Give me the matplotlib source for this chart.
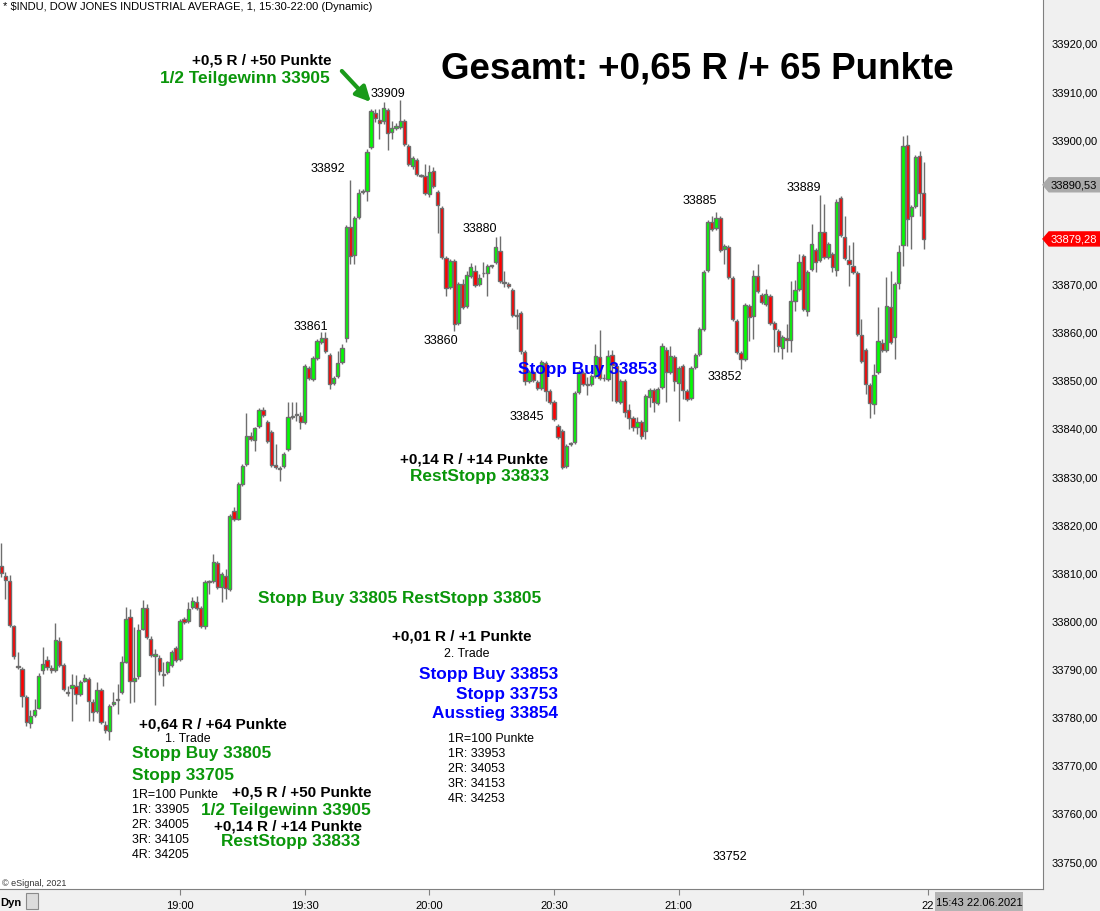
import numpy as np
import matplotlib.pyplot as plt
from matplotlib.patches import Polygon, Rectangle, FancyArrowPatch

plt.rcParams['font.family'] = ['Liberation Sans', 'DejaVu Sans']

# --- 1-minute candles, 18:17 .. 21:59 ---
opens = [
    33811.3, 33809.2, 33808.2, 33798.8, 33790.6, 33789.9, 33784.1, 33778.7, 33780.3, 33781.8,
    33789.7, 33791.8, 33790.1, 33789.7, 33795.7, 33790.7, 33785.2, 33785.9, 33786.3, 33784.7,
    33787.4, 33787.8, 33783.0, 33781.1, 33785.5, 33778.3, 33777.0, 33782.6, 33783.7, 33785.1,
    33791.3, 33800.7, 33787.4, 33788.4, 33798.2, 33802.5, 33796.1, 33792.6, 33792.2, 33788.8,
    33789.3, 33790.7, 33794.2, 33792.0, 33800.3, 33799.9, 33802.8, 33803.8, 33802.5, 33798.8,
    33808.2, 33808.2, 33811.9, 33806.9, 33809.2, 33806.5, 33822.7, 33821.1, 33828.3, 33832.5,
    33838.3, 33837.5, 33840.4, 33843.7, 33841.2, 33839.1, 33832.3, 33831.7, 33832.1, 33835.6,
    33842.2, 33842.6, 33842.4, 33841.2, 33852.4, 33850.1, 33854.5, 33857.8, 33858.6, 33855.1,
    33849.3, 33850.8, 33853.7, 33858.6, 33881.7, 33875.9, 33883.8, 33889.0, 33889.2, 33898.3,
    33905.4, 33904.0, 33903.7, 33906.0, 33901.5, 33902.3, 33902.5, 33903.7, 33898.6, 33894.4,
    33895.7, 33892.6, 33892.3, 33888.6, 33893.4, 33889.0, 33885.7, 33875.3, 33869.3, 33874.7,
    33861.8, 33869.9, 33865.3, 33871.5, 33872.6, 33869.9, 33872.1, 33872.2, 33873.6, 33874.4,
    33876.7, 33870.3, 33869.9, 33868.6, 33863.5, 33863.8, 33855.7, 33849.7, 33851.6, 33849.5,
    33848.3, 33853.5, 33847.6, 33845.4, 33840.4, 33839.3, 33832.1, 33836.6, 33837.0, 33847.4,
    33851.4, 33849.0, 33849.1, 33850.8, 33854.7, 33850.4, 33850.1, 33855.1, 33852.8, 33845.4,
    33849.7, 33843.7, 33842.0, 33840.2, 33841.2, 33839.3, 33846.4, 33847.9, 33845.2, 33848.5,
    33856.2, 33851.6, 33854.7, 33849.3, 33852.8, 33847.6, 33846.2, 33852.6, 33855.3, 33860.5,
    33872.8, 33882.8, 33881.5, 33883.6, 33877.1, 33877.6, 33871.1, 33862.2, 33855.5, 33854.3,
    33865.3, 33863.2, 33871.5, 33867.6, 33865.7, 33867.4, 33861.8, 33860.1, 33856.6, 33858.6,
    33858.2, 33866.3, 33868.8, 33875.7, 33864.3, 33873.0, 33876.9, 33874.9, 33880.7, 33875.5,
    33876.1, 33872.8, 33887.7, 33879.6, 33874.9, 33873.6, 33872.2, 33859.3, 33856.2, 33848.9,
    33844.9, 33851.6, 33857.6, 33856.2, 33865.1, 33858.9, 33870.1, 33878.0, 33898.8, 33884.0,
    33886.1, 33896.5, 33888.8,
]
highs = [
    33816.1, 33810.0, 33809.4, 33799.0, 33793.4, 33790.3, 33784.5, 33781.4, 33783.6, 33789.1,
    33794.4, 33792.6, 33790.7, 33799.4, 33796.5, 33791.1, 33786.3, 33788.8, 33788.6, 33787.6,
    33788.8, 33788.2, 33783.6, 33787.2, 33785.9, 33779.1, 33782.6, 33785.1, 33786.8, 33792.6,
    33802.8, 33802.3, 33798.6, 33799.2, 33804.2, 33803.5, 33796.7, 33794.0, 33792.8, 33791.3,
    33791.5, 33793.8, 33794.6, 33800.3, 33800.7, 33803.8, 33804.8, 33805.0, 33802.9, 33808.4,
    33808.3, 33813.8, 33812.3, 33810.0, 33810.7, 33822.1, 33823.5, 33828.7, 33832.5, 33843.1,
    33839.1, 33840.3, 33844.1, 33844.3, 33841.6, 33839.5, 33836.6, 33832.0, 33835.0, 33845.4,
    33845.4, 33845.4, 33843.3, 33853.2, 33852.8, 33854.9, 33858.4, 33859.9, 33859.9, 33855.5,
    33850.8, 33856.0, 33857.4, 33882.1, 33891.5, 33884.0, 33889.6, 33889.6, 33897.9, 33906.2,
    33906.2, 33906.2, 33907.7, 33906.4, 33903.7, 33903.3, 33908.1, 33904.1, 33899.0, 33896.5,
    33896.1, 33892.8, 33894.8, 33894.6, 33894.2, 33889.4, 33886.1, 33875.7, 33875.1, 33875.1,
    33870.3, 33870.9, 33872.6, 33874.2, 33873.8, 33871.9, 33874.4, 33874.0, 33873.8, 33879.6,
    33879.8, 33872.6, 33870.3, 33869.0, 33864.7, 33864.2, 33856.1, 33852.0, 33852.0, 33849.9,
    33854.1, 33853.9, 33848.0, 33845.8, 33840.8, 33839.7, 33836.6, 33837.0, 33847.6, 33852.0,
    33851.8, 33850.5, 33851.2, 33857.4, 33860.3, 33851.2, 33856.2, 33856.2, 33853.2, 33850.1,
    33850.1, 33845.0, 33842.4, 33842.2, 33841.6, 33847.0, 33848.3, 33848.3, 33848.5, 33857.6,
    33856.8, 33857.0, 33855.1, 33852.8, 33853.2, 33848.0, 33852.8, 33855.5, 33860.9, 33872.8,
    33883.2, 33884.0, 33884.8, 33884.0, 33878.2, 33878.0, 33871.5, 33862.6, 33855.9, 33865.9,
    33865.7, 33872.8, 33874.0, 33868.0, 33868.8, 33867.8, 33862.2, 33860.5, 33859.3, 33861.6,
    33870.5, 33870.7, 33876.1, 33876.1, 33872.8, 33882.4, 33877.3, 33888.4, 33886.5, 33878.6,
    33876.5, 33887.6, 33888.1, 33884.0, 33878.0, 33878.6, 33872.6, 33862.6, 33856.6, 33849.3,
    33853.3, 33865.1, 33858.4, 33871.3, 33872.6, 33870.3, 33878.0, 33900.6, 33900.8, 33886.3,
    33896.7, 33897.5, 33895.2,
]
lows = [
    33809.0, 33804.4, 33798.6, 33792.0, 33789.9, 33782.0, 33778.1, 33777.6, 33779.9, 33781.6,
    33788.8, 33789.7, 33789.1, 33789.3, 33790.3, 33785.3, 33784.3, 33779.1, 33782.6, 33784.3,
    33787.2, 33779.1, 33779.1, 33780.7, 33778.5, 33776.6, 33775.1, 33782.2, 33780.5, 33784.7,
    33791.1, 33782.8, 33783.0, 33787.8, 33798.0, 33796.1, 33792.4, 33782.4, 33788.7, 33786.3,
    33788.8, 33790.3, 33791.3, 33791.6, 33799.2, 33799.4, 33802.3, 33802.1, 33798.4, 33798.2,
    33805.5, 33807.8, 33806.5, 33803.8, 33804.4, 33806.1, 33820.7, 33820.9, 33827.9, 33832.1,
    33837.3, 33835.2, 33840.0, 33842.3, 33836.9, 33831.9, 33831.5, 33829.0, 33831.7, 33835.2,
    33841.8, 33841.4, 33839.8, 33840.8, 33849.9, 33849.7, 33854.1, 33857.4, 33855.5, 33848.1,
    33848.9, 33850.4, 33853.3, 33857.8, 33874.0, 33874.0, 33883.4, 33888.6, 33887.1, 33897.9,
    33903.6, 33900.0, 33903.1, 33897.7, 33900.0, 33901.9, 33902.1, 33898.6, 33894.4, 33893.8,
    33892.3, 33892.1, 33888.4, 33887.9, 33889.8, 33880.5, 33875.1, 33867.4, 33868.9, 33860.1,
    33861.4, 33864.7, 33864.9, 33871.1, 33869.3, 33869.5, 33871.3, 33867.4, 33873.2, 33874.0,
    33870.1, 33869.3, 33869.1, 33863.0, 33860.5, 33855.3, 33848.9, 33849.3, 33849.5, 33847.9,
    33847.9, 33845.6, 33845.0, 33841.4, 33837.7, 33831.5, 33831.7, 33836.2, 33836.6, 33847.0,
    33848.7, 33846.8, 33848.7, 33850.4, 33850.0, 33849.8, 33849.7, 33845.6, 33845.2, 33845.0,
    33842.3, 33839.8, 33839.3, 33838.7, 33837.7, 33837.7, 33844.3, 33843.3, 33844.8, 33848.1,
    33845.4, 33851.2, 33847.7, 33841.4, 33846.0, 33845.6, 33845.8, 33852.2, 33854.9, 33860.1,
    33872.4, 33880.9, 33881.1, 33876.5, 33874.0, 33870.9, 33862.2, 33855.3, 33852.2, 33853.9,
    33858.1, 33858.5, 33868.0, 33865.7, 33865.3, 33861.4, 33855.7, 33855.7, 33854.3, 33855.7,
    33855.7, 33864.3, 33868.4, 33864.3, 33863.2, 33872.6, 33872.4, 33874.5, 33875.1, 33875.1,
    33872.4, 33871.6, 33879.7, 33874.9, 33869.5, 33872.0, 33859.1, 33853.5, 33847.0, 33842.0,
    33842.9, 33851.2, 33855.8, 33855.8, 33857.4, 33854.3, 33868.8, 33873.6, 33877.8, 33877.2,
    33885.7, 33884.0, 33877.2,
]
closes = [
    33809.8, 33808.4, 33799.0, 33792.6, 33790.4, 33784.3, 33778.9, 33780.1, 33781.4, 33788.4,
    33790.9, 33790.3, 33789.7, 33795.9, 33790.7, 33785.7, 33785.0, 33786.5, 33784.7, 33787.2,
    33788.0, 33783.2, 33780.9, 33785.5, 33778.9, 33777.2, 33782.2, 33783.0, 33783.5, 33791.3,
    33800.3, 33787.4, 33788.0, 33798.0, 33802.5, 33796.5, 33792.8, 33793.0, 33789.5, 33788.6,
    33791.3, 33793.4, 33791.8, 33799.9, 33799.6, 33802.3, 33804.0, 33802.5, 33798.8, 33808.0,
    33808.0, 33812.1, 33806.9, 33809.6, 33806.7, 33821.7, 33821.1, 33828.3, 33832.1, 33838.3,
    33837.7, 33839.9, 33843.7, 33842.7, 33837.3, 33832.3, 33831.9, 33831.5, 33834.6, 33842.2,
    33842.4, 33842.8, 33841.2, 33852.8, 33850.4, 33854.5, 33858.0, 33858.6, 33855.9, 33849.1,
    33850.4, 33853.5, 33856.6, 33881.7, 33875.7, 33883.6, 33888.8, 33889.2, 33897.3, 33905.8,
    33904.4, 33903.3, 33906.5, 33901.3, 33902.3, 33902.7, 33903.7, 33899.0, 33894.8, 33896.1,
    33892.7, 33892.4, 33888.8, 33893.2, 33890.2, 33886.3, 33875.5, 33869.0, 33874.7, 33861.6,
    33869.9, 33865.1, 33871.8, 33873.4, 33869.7, 33871.1, 33872.2, 33873.6, 33873.8, 33877.6,
    33870.5, 33870.1, 33869.5, 33863.4, 33863.3, 33855.9, 33849.7, 33851.6, 33849.9, 33848.3,
    33853.7, 33847.6, 33845.4, 33841.8, 33838.1, 33831.9, 33836.2, 33836.8, 33847.2, 33851.6,
    33849.1, 33849.2, 33850.8, 33854.9, 33850.4, 33850.3, 33854.9, 33853.1, 33845.6, 33849.7,
    33843.3, 33842.0, 33840.2, 33841.2, 33838.3, 33846.6, 33847.9, 33845.4, 33848.1, 33857.0,
    33851.6, 33854.9, 33849.7, 33852.4, 33847.9, 33846.0, 33852.4, 33855.1, 33860.5, 33872.4,
    33882.8, 33881.3, 33883.6, 33876.9, 33877.8, 33871.3, 33862.6, 33855.7, 33854.3, 33865.5,
    33863.0, 33871.5, 33868.4, 33866.1, 33867.8, 33861.8, 33860.5, 33857.0, 33858.9, 33858.2,
    33866.3, 33868.6, 33874.4, 33864.7, 33872.4, 33878.2, 33874.4, 33880.7, 33875.5, 33878.2,
    33873.4, 33886.9, 33880.1, 33875.3, 33874.0, 33872.4, 33859.5, 33853.9, 33849.1, 33845.2,
    33851.0, 33858.0, 33856.2, 33865.3, 33857.8, 33869.9, 33876.5, 33898.6, 33883.4, 33885.9,
    33896.3, 33888.8, 33879.3,
]

time_labels = ['19:00', '19:30', '20:00', '20:30', '21:00', '21:30', '22']
time_index = [43, 73, 103, 133, 163, 193, 223]
price_ticks = list(range(33750, 33921, 10))
prev_close = 33890.53
last_price = 33879.28

pivot_labels = ['33909', '33892', '33861', '33860', '33880', '33845',
                '33885', '33852', '33889', '33752']
pivot_x = [93.1, 78.6, 74.5, 105.8, 115.2, 126.5, 168.2, 174.2, 193.2, 175.4]
pivot_y = [33909.6, 33894.0, 33861.2, 33858.2, 33881.5, 33842.4,
           33887.3, 33850.8, 33890.0, 33751.0]

trade1_levels = ['1R=100 Punkte', '1R: 33905', '2R: 34005', '3R: 34105', '4R: 34205']
trade2_levels = ['1R=100 Punkte', '1R: 33953', '2R: 34053', '3R: 34153', '4R: 34253']

GREEN = '#0a960a'
BLUE = '#0000ff'
EDGE = '#6e6e6e'
W, H = 1100, 912

fig = plt.figure(figsize=(W / 100, H / 100), dpi=100, facecolor='#f0f0f0')
ax = fig.add_axes([0, 22 / H, 1043 / W, 890 / H])
ax.set_facecolor('white')

o = np.array(opens)
c = np.array(closes)
idx = np.arange(len(c))
up = c >= o
ax.vlines(idx, lows, highs, color=EDGE, lw=1, zorder=1)
ax.bar(idx, np.maximum(np.abs(c - o), 0.08), 0.78, np.minimum(o, c),
       color=np.where(up, '#00ff00', '#ff0000'), edgecolor=EDGE, linewidth=1.0, zorder=2)

ax.set_xlim(-0.31, 250.7)
ax.set_ylim(33744.19, 33929.14)

# tick labels hidden under the two price markers are left blank
markers = [prev_close, last_price]
ytick_text = []
for v in price_ticks:
    if min(abs(v - m) for m in markers) < 4:
        ytick_text.append('')
    else:
        ytick_text.append(f'{v:.2f}'.replace('.', ','))

ax.yaxis.tick_right()
ax.set_yticks(price_ticks)
ax.set_yticklabels(ytick_text)
ax.set_xticks(time_index)
ax.set_xticklabels(time_labels)
ax.tick_params(axis='y', length=0, pad=6, labelsize=8)
ax.tick_params(axis='x', length=4, color='#808080', pad=4, labelsize=8)
for side in ['left', 'top']:
    ax.spines[side].set_visible(False)
for side in ['right', 'bottom']:
    ax.spines[side].set_color('#808080')

for s, xx, yy in zip(pivot_labels, pivot_x, pivot_y):
    ax.text(xx, yy, s, ha='center', va='center', fontsize=9, zorder=4)

ax.add_patch(FancyArrowPatch((81.5, 33914.6), (89.4, 33907.3), arrowstyle='-|>',
                             mutation_scale=22, lw=3, color='#1a9a1a', zorder=5))

# price markers on the right scale
for price, bg, fg in [(prev_close, '#a9a9a9', 'black'), (last_price, '#ff0000', 'white')]:
    yf = ax.transData.transform((0, price))[1] / fig.bbox.height
    h = 7 / H
    pts = [(1043 / W, yf), (1049 / W, yf + h), (1, yf + h), (1, yf - h), (1049 / W, yf - h)]
    fig.add_artist(Polygon(pts, closed=True, transform=fig.transFigure, color=bg, zorder=5))
    fig.text(1051 / W, yf, f'{price:.2f}'.replace('.', ','), color=fg, fontsize=8,
             va='center', ha='left', zorder=6)


def put(x, y, s, kind='black', ha='left'):
    styles = {
        'black': dict(color='black', fontsize=11, fontweight='bold'),
        'green': dict(color=GREEN, fontsize=12.4, fontweight='bold'),
        'blue': dict(color=BLUE, fontsize=12.4, fontweight='bold'),
        'plain': dict(color='black', fontsize=8.9),
    }
    fig.text(x / W, 1 - (y + 1.5) / H, s, ha=ha, va='center', **styles[kind])


fig.text(3 / W, 1 - 7 / H, '* $INDU, DOW JONES INDUSTRIAL AVERAGE, 1, 15:30-22:00 (Dynamic)',
         fontsize=8, va='center')
fig.text(441 / W, 1 - 69 / H, 'Gesamt: +0,65 R /+ 65 Punkte', fontsize=26.5,
         fontweight='bold', va='center')

put(192, 59, '+0,5 R / +50 Punkte')
put(160, 77, '1/2 Teilgewinn 33905', 'green')
put(518, 368, 'Stopp Buy 33853', 'blue')
put(400, 458, '+0,14 R / +14 Punkte')
put(410, 475, 'RestStopp 33833', 'green')
put(258, 597, 'Stopp Buy 33805 RestStopp 33805', 'green')

put(392, 635, '+0,01 R / +1 Punkte')
put(444, 653, '2. Trade', 'plain')
put(558, 673, 'Stopp Buy 33853', 'blue', ha='right')
put(558, 693, 'Stopp 33753', 'blue', ha='right')
put(558, 712, 'Ausstieg 33854', 'blue', ha='right')
for k, s in enumerate(trade2_levels):
    put(448, 738 + 15 * k, s, 'plain')

put(139, 723, '+0,64 R / +64 Punkte')
put(165, 737, '1. Trade', 'plain')
put(132, 752, 'Stopp Buy 33805', 'green')
put(132, 774, 'Stopp 33705', 'green')
for k, s in enumerate(trade1_levels):
    put(132, 794 + 15 * k, s, 'plain')
put(232, 791, '+0,5 R / +50 Punkte')
put(201, 809, '1/2 Teilgewinn 33905', 'green')
put(214, 825, '+0,14 R / +14 Punkte')
put(221, 840, 'RestStopp 33833', 'green')

fig.text(2 / W, 1 - 884 / H, '\u00a9 eSignal, 2021', fontsize=6.5, color='#333333', va='center')

# bottom strip widgets
fig.text(0, 1 - 903 / H, 'Dyn', fontsize=8, fontweight='bold', va='center')
fig.add_artist(Rectangle((26 / W, 1 - 910 / H), 12 / W, 16 / H, transform=fig.transFigure,
                         facecolor='#dcdcdc', edgecolor='#8a8a8a', lw=0.8))
fig.add_artist(Rectangle((935 / W, 0), 88 / W, 19 / H, transform=fig.transFigure,
                         facecolor='#b4b4b4', edgecolor='none'))
fig.text(979 / W, 1 - 903 / H, '15:43 22.06.2021', fontsize=8, ha='center', va='center')

fig.savefig('out.png', dpi=100)
